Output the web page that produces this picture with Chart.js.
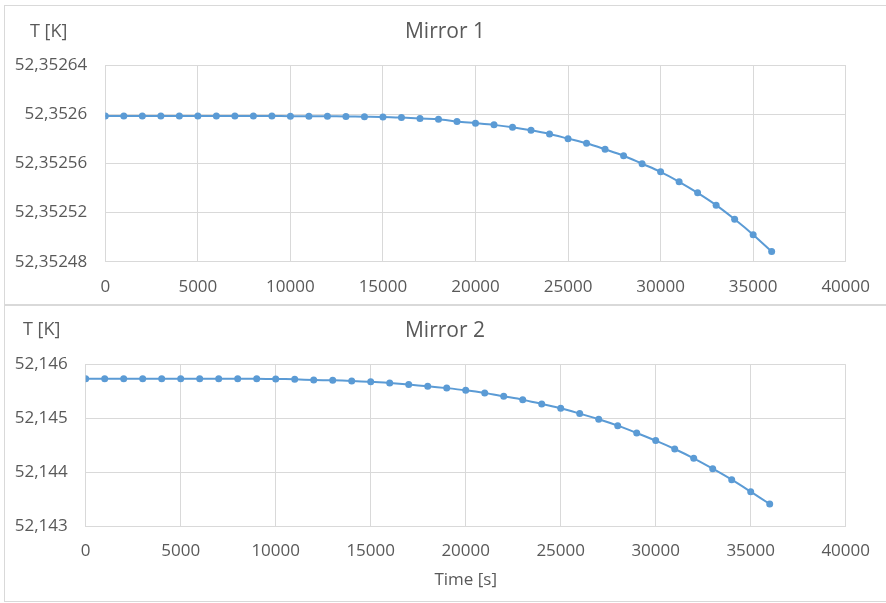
<!DOCTYPE html>
<html>
<head>
<meta charset="utf-8">
<script src="https://cdn.jsdelivr.net/npm/chart.js@4"></script>
<style>
  body { margin: 0; background: #fff; width: 886px; height: 603px; position: relative; overflow: hidden; font-family: "Open Sans", sans-serif; }
  .panel { position: absolute; border: 1px solid #d9d9d9; box-sizing: border-box; }
  .panel canvas { position: absolute; left: 0; top: 0; }
  .unit { position: absolute; color: #595959; font-size: 18px; line-height: 1; }
  .title { position: absolute; left: 0; width: 890px; text-align: center; color: #595959; font-size: 21px; line-height: 1; }
</style>
</head>
<body>
<div class="panel" id="p1" style="left:4px; top:5px; width:884px; height:301px;">
  <canvas id="c1" width="880" height="299"></canvas>
</div>
<div class="panel" id="p2" style="left:4px; top:304px; width:884px; height:298px;">
  <canvas id="c2" width="880" height="296"></canvas>
</div>
<div class="unit" style="left:30px; top:21px;">T [K]</div>
<div class="unit" style="left:23px; top:319px;">T [K]</div>
<div class="title" style="top:20px;">Mirror 1</div>
<div class="title" style="top:319px;">Mirror 2</div>

<script>
// time in seconds, one point every 1000 s
const times = [0, 1000, 2000, 3000, 4000, 5000, 6000, 7000, 8000, 9000,
  10000, 11000, 12000, 13000, 14000, 15000, 16000, 17000, 18000, 19000,
  20000, 21000, 22000, 23000, 24000, 25000, 26000, 27000, 28000, 29000,
  30000, 31000, 32000, 33000, 34000, 35000, 36000];

// Mirror 1 temperature [K]
const mirror1 = [52.3525986, 52.3525986, 52.3525986, 52.3525986, 52.3525986, 52.3525986,
  52.3525986, 52.3525985, 52.3525985, 52.3525985, 52.3525984, 52.3525984, 52.3525983,
  52.3525982, 52.3525980, 52.3525978, 52.3525972, 52.3525964, 52.3525959, 52.3525940,
  52.3525927, 52.3525913, 52.3525894, 52.3525869, 52.3525839, 52.3525801, 52.3525763,
  52.3525714, 52.3525662, 52.3525597, 52.3525531, 52.3525450, 52.3525360, 52.3525260,
  52.3525145, 52.3525020, 52.3524882];

// Mirror 2 temperature [K]
const mirror2 = [52.145734, 52.145734, 52.145734, 52.145734, 52.145733, 52.145733,
  52.145733, 52.145732, 52.145731, 52.145730, 52.145728, 52.145722, 52.145709,
  52.145703, 52.145691, 52.145678, 52.145654, 52.145623, 52.145592, 52.145558,
  52.145518, 52.145468, 52.145406, 52.145344, 52.145264, 52.145184, 52.145085,
  52.144980, 52.144862, 52.144726, 52.144584, 52.144429, 52.144256, 52.144064,
  52.143860, 52.143637, 52.143408];

const xTicks = [0, 5000, 10000, 15000, 20000, 25000, 30000, 35000, 40000];
const y1Ticks = [52.35248, 52.35252, 52.35256, 52.3526, 52.35264];
const y2Ticks = [52.143, 52.144, 52.145, 52.146];

const blue = '#5b9bd5';
const grid = '#d9d9d9';
const textCol = '#595959';
const font = '"Open Sans", sans-serif';

// comma decimal like the original, trailing zeros dropped
const fmt = (v, digits) => String(Number(v.toFixed(digits))).replace('.', ',');

function makeChart(id, values, yTicks, digits, opts) {
  const ctx = document.getElementById(id).getContext('2d');
  return new Chart(ctx, {
    type: 'line',
    data: {
      datasets: [{
        data: times.map((t, i) => ({ x: t, y: values[i] })),
        borderColor: blue,
        backgroundColor: blue,
        borderWidth: 2,
        pointRadius: 3.5,
        pointBorderWidth: 0,
        tension: 0.3,
        fill: false
      }]
    },
    options: {
      responsive: false,
      animation: false,
      layout: { padding: { left: 0, right: 36.7, top: opts.top, bottom: opts.bottom } },
      plugins: {
        legend: { display: false },
        tooltip: { enabled: false }
      },
      scales: {
        x: {
          type: 'linear',
          min: 0,
          max: 40000,
          afterBuildTicks: (s) => { s.ticks = xTicks.map(v => ({ value: v })); },
          afterFit: (s) => { s.height = opts.xHeight; },
          ticks: {
            color: textCol,
            font: { family: font, size: 17 },
            padding: 15,
            maxRotation: 0,
            callback: (v) => String(v)
          },
          grid: { color: grid, drawTicks: false },
          border: { color: grid },
          title: opts.xTitle ? {
            display: true,
            text: opts.xTitle,
            color: textCol,
            font: { family: font, size: 17 },
            padding: { top: 2, bottom: 0 }
          } : { display: false }
        },
        y: {
          min: yTicks[0],
          max: yTicks[yTicks.length - 1],
          afterBuildTicks: (s) => { s.ticks = yTicks.map(v => ({ value: v })); },
          afterFit: (s) => { s.width = opts.yWidth; },
          ticks: {
            color: textCol,
            font: { family: font, size: 17 },
            padding: 18,
            callback: (v) => fmt(v, digits)
          },
          grid: { color: grid, drawTicks: false },
          border: { color: grid }
        }
      }
    }
  });
}

makeChart('c1', mirror1, y1Ticks, 5, { top: 59, bottom: 0, xHeight: 43.3, yWidth: 100.3 });
makeChart('c2', mirror2, y2Ticks, 3, { top: 59.3, bottom: 11, xHeight: 64, yWidth: 80.7, xTitle: 'Time [s]' });
</script>
</body>
</html>
